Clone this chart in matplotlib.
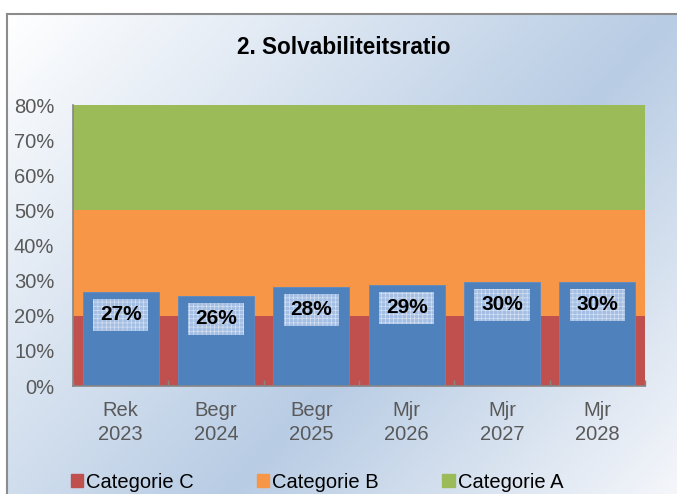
import matplotlib.pyplot as plt
import numpy as np
from matplotlib.patches import Rectangle, Patch
from matplotlib.colors import LinearSegmentedColormap

plt.rcParams['font.family'] = ['Liberation Sans', 'DejaVu Sans']
plt.rcParams['hatch.linewidth'] = 0.4

# Data
categories = ['Rek\n2023', 'Begr\n2024', 'Begr\n2025', 'Mjr\n2026', 'Mjr\n2027', 'Mjr\n2028']
ratio = [26.9, 25.7, 28.3, 28.8, 29.6, 29.7]
ratio_labels = ['27%', '26%', '28%', '29%', '30%', '30%']
cat_c = [20, 20, 20, 20, 20, 20]
cat_b = [30, 30, 30, 30, 30, 30]
cat_a = [30, 30, 30, 30, 30, 30]

W, H = 677, 494
fig = plt.figure(figsize=(W / 100, H / 100), dpi=100)

# Background gradient inside the frame
bg = fig.add_axes([7 / W, 0, 1 - 7 / W, (H - 14) / H], zorder=0)
gx, gy = np.meshgrid(np.linspace(0, 1, 300), np.linspace(0, 1, 300))
t = 0.6 * gx + 0.4 * gy
cmap = LinearSegmentedColormap.from_list('bg', [(0, '#ffffff'), (0.6, '#b8cce4'), (1, '#f4f6fa')])
bg.imshow(t, cmap=cmap, aspect='auto', extent=[0, 1, 1, 0], vmin=0, vmax=1)
bg.set_xlim(0, 1)
bg.set_ylim(1, 0)
bg.axis('off')

# Frame lines
fig.add_artist(plt.Line2D([7 / W, 7 / W], [0, (H - 14) / H], color='#8c8c8c', lw=1.5))
fig.add_artist(plt.Line2D([7 / W, 1], [(H - 14) / H, (H - 14) / H], color='#8c8c8c', lw=1.5))

# Main plot
ax = fig.add_axes([73 / W, (H - 386) / H, (645 - 73) / W, (386 - 105) / H], zorder=1)
ax.patch.set_alpha(0)
x = np.arange(len(categories))

ax.bar(x, cat_c, width=1.0, color='#c0504d', label='Categorie C')
ax.bar(x, cat_b, width=1.0, bottom=cat_c, color='#f79646', label='Categorie B')
ax.bar(x, cat_a, width=1.0, bottom=np.add(cat_c, cat_b), color='#9bbb59', label='Categorie A')
ax.bar(x, ratio, width=0.8, color='#4f81bd', edgecolor='#5b8bc6', linewidth=0.6)

# Data labels with patterned box
for i, v in enumerate(ratio):
    top = v - 2.1
    ax.add_patch(Rectangle((i - 0.29, top - 9.1), 0.58, 9.1, facecolor='#a4bfe3',
                           edgecolor='#dde6f4', hatch='++++', linewidth=0, zorder=3))
    ax.text(i, top - 4.4, ratio_labels[i], ha='center', va='center', fontsize=15,
            fontweight='bold', color='black', zorder=4)

ax.set_xlim(-0.5, len(categories) - 0.5)
ax.set_ylim(0, 80)
ax.set_yticks(range(0, 81, 10))
ax.set_yticklabels([f'{v}%' for v in range(0, 81, 10)])
ax.set_xticks(x)
ax.set_xticklabels(categories, linespacing=1.3)
ax.set_xticks(np.arange(-0.5, len(categories), 1), minor=True)
ax.tick_params(axis='y', length=0, pad=13.5, labelsize=14.5, labelcolor='#595959')
ax.tick_params(axis='x', which='major', length=0, pad=11, labelsize=14.5, labelcolor='#595959')
ax.tick_params(axis='x', which='minor', direction='in', length=4, color='#868686', width=1)
for s in ['top', 'right']:
    ax.spines[s].set_visible(False)
for s in ['left', 'bottom']:
    ax.spines[s].set_color('#868686')
    ax.spines[s].set_linewidth(1.2)

fig.text(344 / W, 1 - 47 / H, '2. Solvabiliteitsratio', ha='center', va='center',
         fontsize=16.3, fontweight='bold', color='black')

handles = [Patch(color='#c0504d'), Patch(color='#f79646'), Patch(color='#9bbb59')]
fig.legend(handles, ['Categorie C', 'Categorie B', 'Categorie A'], loc='center left',
           bbox_to_anchor=(71 / W, 1 - 482 / H), ncol=3, frameon=False, fontsize=14.5,
           handlelength=0.6, handleheight=0.6, handletextpad=0.15, columnspacing=3.15,
           borderpad=0, borderaxespad=0)

fig.savefig('out.png', dpi=100)
